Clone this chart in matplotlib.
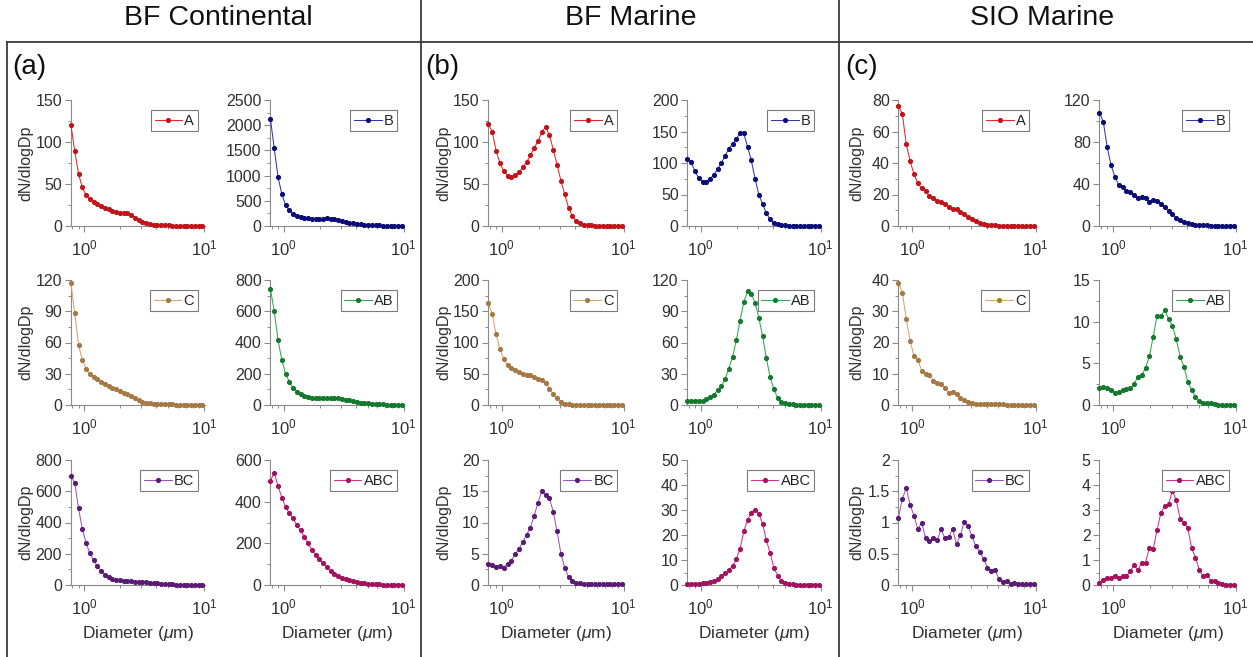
import matplotlib
matplotlib.use("Agg")
import matplotlib.pyplot as plt
from matplotlib.ticker import MultipleLocator, AutoMinorLocator, FuncFormatter, LogLocator, NullFormatter
from matplotlib.lines import Line2D

plt.rcParams['font.family'] = ['Liberation Sans', 'DejaVu Sans']
plt.rcParams['mathtext.fontset'] = 'custom'
plt.rcParams['mathtext.rm'] = 'Liberation Sans'
plt.rcParams['mathtext.it'] = 'Liberation Sans:italic'

# APS channel midpoint diameters (um)
diameter = [0.777, 0.835, 0.898, 0.965, 1.037, 1.114, 1.197, 1.286, 1.382, 1.486,
            1.596, 1.715, 1.843, 1.981, 2.129, 2.288, 2.458, 2.642, 2.839, 3.051,
            3.278, 3.523, 3.786, 4.068, 4.371, 4.698, 5.048, 5.425, 5.829, 6.264,
            6.732, 7.234, 7.774, 8.354, 8.977, 9.647]

sites = ["BF Continental", "BF Marine", "SIO Marine"]
panel_tags = ["(a)", "(b)", "(c)"]
classes = ["A", "B", "C", "AB", "BC", "ABC"]

# ---- BF Continental ----
bfc_A = [120, 89, 62, 46, 37, 32, 28, 26, 24, 22, 20, 18, 17, 16, 16, 15, 13, 10, 7, 5,
         3, 2, 1.5, 1, 1, 0.8, 0.6, 0.5, 0.4, 0.3, 0.3, 0.2, 0.2, 0.1, 0.1, 0.1]
bfc_B = [2120, 1540, 970, 640, 420, 310, 230, 190, 170, 160, 150, 145, 140, 140, 145, 150,
         140, 130, 115, 95, 80, 65, 50, 40, 30, 25, 20, 15, 12, 10, 8, 6, 5, 4, 3, 2]
bfc_C = [117, 88, 58, 43, 35, 30, 27, 25, 22, 20, 18, 16, 15, 13, 12, 11, 9, 7, 5, 3,
         2, 1.5, 1.2, 1, 0.8, 0.7, 0.6, 0.5, 0.4, 0.3, 0.3, 0.2, 0.2, 0.2, 0.1, 0.1]
bfc_AB = [740, 600, 415, 290, 200, 150, 110, 85, 70, 60, 52, 48, 45, 45, 46, 48, 48, 46,
          44, 40, 35, 30, 25, 20, 16, 13, 10, 8, 6, 5, 4, 3, 2, 2, 1, 1]
bfc_BC = [700, 655, 490, 360, 270, 205, 160, 120, 90, 65, 50, 40, 33, 30, 28, 26, 24, 22,
          20, 19, 17, 15, 13, 11, 9, 7, 5, 4, 3, 2, 2, 1, 1, 1, 0.5, 0.5]
bfc_ABC = [500, 540, 475, 420, 375, 345, 320, 290, 262, 232, 200, 170, 145, 125, 105, 85,
           65, 52, 42, 35, 28, 22, 17, 13, 10, 8, 6, 5, 4, 3, 2, 2, 1, 1, 1, 0.5]

# ---- BF Marine ----
bfm_A = [121, 112, 89, 75, 65, 60, 58, 61, 64, 70, 76, 84, 93, 101, 112, 118, 108, 91,
         73, 54, 38, 22, 12, 6, 3, 1.5, 1, 0.6, 0.4, 0.3, 0.2, 0.2, 0.1, 0.1, 0.1, 0.1]
bfm_B = [107, 101, 87, 76, 70, 70, 75, 81, 90, 100, 111, 123, 130, 138, 147, 147, 126, 104,
         75, 50, 35, 20, 11, 5, 3, 1.5, 1, 0.6, 0.4, 0.3, 0.2, 0.2, 0.1, 0.1, 0.1, 0.1]
bfm_C = [163, 145, 113, 89, 74, 64, 59, 56, 53, 49, 48, 48, 45, 42, 40, 36, 26, 18, 11, 5,
         2, 1, 0.6, 0.4, 0.3, 0.2, 0.2, 0.1, 0.1, 0.1, 0.1, 0.1, 0.1, 0.1, 0.1, 0.1]
bfm_AB = [3.5, 3.5, 3.6, 3.8, 4.2, 5.5, 8, 10, 14, 18, 25, 35, 46, 62, 81, 99, 109, 107,
          98, 84, 66, 45, 27, 15, 7, 3, 1.5, 0.8, 0.5, 0.4, 0.3, 0.2, 0.2, 0.1, 0.1, 0.1]
bfm_BC = [3.3, 3.2, 2.9, 3.0, 2.8, 3.4, 3.9, 4.9, 5.8, 6.9, 8.0, 9.2, 11.1, 13.2, 15.0, 14.4,
          13.9, 11.7, 8.6, 5.0, 2.8, 1.3, 0.6, 0.4, 0.3, 0.2, 0.15, 0.1, 0.1, 0.1, 0.1, 0.1,
          0.1, 0.1, 0.1, 0.1]
bfm_ABC = [0.3, 0.4, 0.5, 0.6, 0.8, 1.0, 1.4, 1.8, 2.5, 3.5, 4.8, 6.0, 7.5, 10.3, 14.5, 21.5,
           26, 29, 30.2, 28.5, 24.5, 18, 12.8, 7, 3.8, 1.8, 0.8, 0.4, 0.3, 0.2, 0.2, 0.1,
           0.1, 0.1, 0.1, 0.1]

# ---- SIO Marine ----
sio_A = [76, 71, 52, 41, 33, 27, 24, 22, 19, 18, 16, 15, 14, 12, 11, 11, 9, 7.5, 5.5, 4.5,
         3, 2, 1.2, 0.8, 0.6, 0.4, 0.3, 0.3, 0.2, 0.2, 0.2, 0.1, 0.1, 0.1, 0.1, 0.1]
sio_B = [108, 99, 75, 58, 47, 39, 37, 33, 32, 30, 27, 28, 27, 23, 25, 24, 21, 18, 14, 11,
         8, 6, 4, 2.5, 1.5, 1, 0.8, 0.6, 0.5, 0.4, 0.3, 0.3, 0.2, 0.2, 0.2, 0.1]
sio_C = [39, 36, 27.5, 20.5, 15.7, 14.5, 11, 10, 9.5, 7.8, 7.2, 6.8, 5.5, 3.8, 4.2, 3.5,
         2.2, 1.6, 1.1, 0.5, 0.4, 0.3, 0.3, 0.3, 0.2, 0.2, 0.2, 0.2, 0.1, 0.1, 0.1, 0.1,
         0.1, 0.1, 0.1, 0.1]
sio_AB = [2.0, 2.15, 2.1, 1.8, 1.5, 1.55, 1.75, 1.9, 2.0, 2.5, 3.4, 3.6, 4.4, 5.9, 8.2,
          10.7, 10.7, 11.4, 10.3, 9.5, 7.9, 5.8, 4.6, 2.8, 1.8, 1.0, 0.5, 0.2, 0.2, 0.2,
          0.1, 0.05, 0.05, 0.05, 0.05, 0.05]
sio_BC = [1.08, 1.38, 1.55, 1.28, 1.11, 0.89, 1.0, 0.75, 0.7, 0.75, 0.72, 0.89, 0.75, 0.77,
          0.9, 0.65, 0.8, 1.01, 0.94, 0.78, 0.62, 0.53, 0.42, 0.28, 0.23, 0.24, 0.09, 0.05,
          0.07, 0.02, 0.03, 0.02, 0.01, 0.01, 0.01, 0.01]
sio_ABC = [0.1, 0.2, 0.3, 0.3, 0.38, 0.28, 0.38, 0.35, 0.55, 0.8, 0.6, 0.9, 0.9, 1.5, 1.45,
           2.2, 2.9, 3.15, 3.25, 3.75, 3.4, 2.65, 2.5, 2.28, 1.48, 1.1, 0.6, 0.35, 0.4,
           0.18, 0.18, 0.08, 0.03, 0.02, 0.02, 0.02]

series = [
    [bfc_A, bfc_B, bfc_C, bfc_AB, bfc_BC, bfc_ABC],
    [bfm_A, bfm_B, bfm_C, bfm_AB, bfm_BC, bfm_ABC],
    [sio_A, sio_B, sio_C, sio_AB, sio_BC, sio_ABC],
]
# y-axis (max, major step) per panel
y_scales = [
    [(150, 50), (2500, 500), (120, 30), (800, 200), (800, 200), (600, 200)],
    [(150, 50), (200, 50), (200, 50), (120, 30), (20, 5), (50, 10)],
    [(80, 20), (120, 40), (40, 10), (15, 5), (2, 0.5), (5, 1)],
]

line_colors = {"A": "#e8262a", "B": "#3535b0", "C": "#d3a46c",
               "AB": "#2fa84f", "BC": "#9a55b8", "ABC": "#d6338a"}
marker_colors = {"A": "#c0141a", "B": "#0c0c78", "C": "#a67843",
                 "AB": "#137a2d", "BC": "#5a1a75", "ABC": "#a3125e"}

W, H = 1253, 657
fig = plt.figure(figsize=(W / 100, H / 100), dpi=100)
fig.patch.set_facecolor("white")

# pixel layout of the panel grid
col_x = [[(70.5, 134), (270, 134)],
         [(488, 136), (687, 134)],
         [(898, 138), (1099, 137)]]
row_y = [(100, 226), (280, 405), (460, 585)]
ylabel_x = [-0.275, -0.27, -0.245]

spine_c = "#8a8a8a"
text_c = "#303030"

for c in range(3):
    for r in range(3):
        for j in range(2):
            k = r * 2 + j
            cls = classes[k]
            x0, w = col_x[c][j]
            top, bot = row_y[r]
            ax = fig.add_axes([x0 / W, 1 - bot / H, w / W, (bot - top) / H])
            ax.plot(diameter, series[c][k], '-o', color=line_colors[cls], lw=0.75,
                    ms=2.7, mfc=marker_colors[cls], mec=marker_colors[cls],
                    label=cls, clip_on=False, zorder=3)
            ax.set_xscale('log')
            ax.set_xlim(0.77, 10.05)
            ymax, step = y_scales[c][k]
            ax.set_ylim(0, ymax)
            ax.yaxis.set_major_locator(MultipleLocator(step))
            ax.yaxis.set_minor_locator(AutoMinorLocator(2))
            ax.yaxis.set_major_formatter(FuncFormatter(lambda v, p: f"{v:g}"))
            ax.xaxis.set_major_locator(LogLocator(base=10, numticks=5))
            ax.xaxis.set_minor_locator(LogLocator(base=10, subs=range(2, 10), numticks=20))
            ax.xaxis.set_minor_formatter(NullFormatter())
            for side in ("top", "right"):
                ax.spines[side].set_visible(False)
            for side in ("left", "bottom"):
                ax.spines[side].set_color(spine_c)
                ax.spines[side].set_linewidth(0.8)
            ax.tick_params(which='major', direction='out', length=4, width=0.8,
                           color=spine_c, labelsize=11.5, labelcolor=text_c, pad=2)
            ax.tick_params(which='minor', direction='out', length=2.2, width=0.7,
                           color=spine_c)
            ax.tick_params(axis='x', which='major', pad=5, labelsize=12)
            if j == 0:
                ax.set_ylabel("dN/dlogDp", fontsize=11.5, color=text_c)
                ax.yaxis.set_label_coords(ylabel_x[c], 0.5)
            if r == 2:
                ax.set_xlabel(r"Diameter ($\mu$m)", fontsize=12.5, color=text_c, labelpad=5)
            leg = ax.legend(loc='upper right', bbox_to_anchor=(0.95, 0.92),
                            borderaxespad=0, fancybox=False, framealpha=1,
                            edgecolor="#7a7a7a", fontsize=10.5, handlelength=1.9,
                            handletextpad=0.15, borderpad=0.25, markerscale=1.0)
            leg.get_frame().set_linewidth(0.8)
            for t in leg.get_texts():
                t.set_color("#222222")

# column headings and panel tags
head_x = [218, 631, 1042]
tag_x = [12, 425, 845]
for c in range(3):
    fig.text(head_x[c] / W, 1 - 18 / H, sites[c], ha='center', va='center',
             fontsize=20.5, color="#111111")
    fig.text(tag_x[c] / W, 1 - 67 / H, panel_tags[c], ha='left', va='center',
             fontsize=20, color="#111111")

# frame lines separating the three groups
frame_c = "#3a3a3a"
lines = [
    ([7, W], [42, 42]),
    ([7, 7], [42, H]),
    ([421, 421], [0, H]),
    ([839, 839], [0, H]),
]
for xs, ys in lines:
    fig.add_artist(Line2D([x / W for x in xs], [1 - y / H for y in ys],
                          color=frame_c, lw=1.3, transform=fig.transFigure))

fig.savefig("out.png", dpi=100, facecolor="white")
